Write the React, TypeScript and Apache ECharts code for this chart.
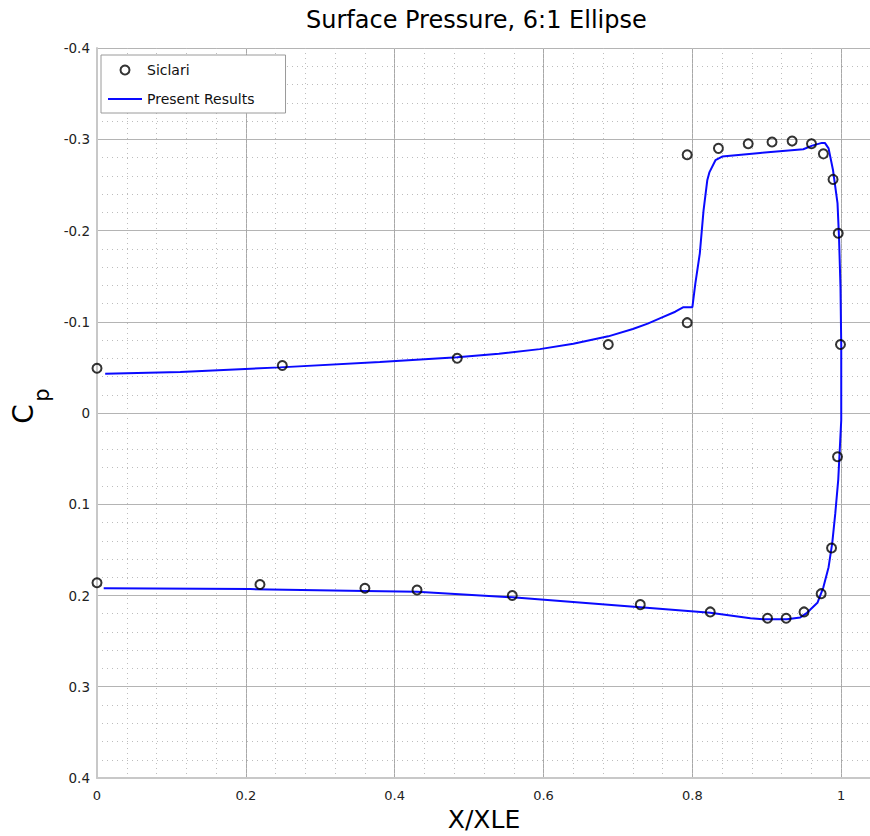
import React, { useEffect, useRef } from "react";
import * as echarts from "echarts";

const titleText = "Surface Pressure, 6:1 Ellipse";
const xAxisTitle = "X/XLE";

const siclariX = [0, 0.249, 0.484, 0.687, 0.793, 0.793, 0.835, 0.875, 0.907, 0.934, 0.96, 0.976, 0.989, 0.996, 0.999, 0.995, 0.987, 0.973, 0.95, 0.926, 0.901, 0.824, 0.73, 0.558, 0.43, 0.36, 0.219, 0];
const siclariCp = [-0.049, -0.052, -0.06, -0.075, -0.099, -0.283, -0.29, -0.295, -0.297, -0.298, -0.295, -0.284, -0.256, -0.197, -0.075, 0.048, 0.148, 0.198, 0.218, 0.225, 0.225, 0.218, 0.21, 0.2, 0.194, 0.192, 0.188, 0.186];

const resultsX = [0.011, 0.112, 0.246, 0.38, 0.484, 0.54, 0.595, 0.64, 0.687, 0.72, 0.74, 0.757, 0.777, 0.788, 0.8, 0.804, 0.81, 0.815, 0.82, 0.823, 0.831, 0.84, 0.891, 0.949, 0.961, 0.974, 0.978, 0.983, 0.989, 0.995, 0.997, 0.999, 1.0, 1.0, 0.996, 0.992, 0.988, 0.983, 0.976, 0.968, 0.954, 0.945, 0.927, 0.895, 0.878, 0.824, 0.73, 0.558, 0.43, 0.36, 0.206, 0.009];
const resultsCp = [-0.043, -0.045, -0.05, -0.056, -0.061, -0.065, -0.07, -0.076, -0.084, -0.092, -0.098, -0.104, -0.111, -0.116, -0.116, -0.142, -0.175, -0.222, -0.255, -0.264, -0.277, -0.281, -0.285, -0.289, -0.293, -0.296, -0.296, -0.29, -0.266, -0.23, -0.193, -0.138, -0.075, 0.008, 0.073, 0.11, 0.142, 0.169, 0.191, 0.208, 0.219, 0.224, 0.226, 0.226, 0.225, 0.219, 0.213, 0.202, 0.196, 0.195, 0.193, 0.192];

const FONT = "DejaVu Sans";

export default function App() {
  const ref = useRef<HTMLDivElement>(null);
  useEffect(() => {
    document.body.style.margin = "0";
    if (!ref.current) return;
    const chart = echarts.init(ref.current, null, { renderer: "svg" });
    const siclari = siclariX.map((x, i) => [x, siclariCp[i]]);
    const results = resultsX.map((x, i) => [x, resultsCp[i]]);
    chart.setOption({
      animation: false,
      backgroundColor: "#ffffff",
      textStyle: { fontFamily: FONT },
      title: {
        text: titleText,
        left: 301,
        top: 3,
        textStyle: { fontFamily: FONT, fontSize: 24, fontWeight: "normal", color: "#000" },
      },
      legend: {
        orient: "vertical",
        left: 101,
        top: 55,
        padding: [8, 31, 7, 6],
        itemGap: 15,
        itemWidth: 34,
        itemHeight: 9,
        backgroundColor: "#ffffff",
        borderColor: "#9a9a9a",
        borderWidth: 1,
        textStyle: { fontFamily: FONT, fontSize: 14, color: "#111" },
        data: [
          { name: "Siclari", icon: "circle", itemStyle: { color: "rgba(0,0,0,0)", borderColor: "#000", borderWidth: 2 } },
          { name: "Present Results", itemStyle: { opacity: 0 } },
        ],
      },
      grid: { left: 97, top: 48, width: 774, height: 730, containLabel: false, outerBoundsMode: "none" },
      xAxis: [
        {
          type: "value",
          min: 0,
          max: 1.04,
          interval: 0.2,
          name: xAxisTitle,
          nameLocation: "middle",
          nameGap: 28,
          nameTextStyle: { fontFamily: FONT, fontSize: 25, color: "#000" },
          axisLine: { show: true, onZero: false, lineStyle: { color: "#c8c8c8", width: 2 } },
          axisTick: { show: false },
          axisLabel: { showMaxLabel: false, margin: 11, fontFamily: FONT, fontSize: 13, color: "#222" },
          splitLine: { show: true, lineStyle: { color: "#a8a8a8", width: 1 } },
        },
        {
          type: "value",
          min: 0,
          max: 1.04,
          interval: 0.04,
          position: "bottom",
          axisLine: { show: false },
          axisTick: { show: false },
          axisLabel: { show: false },
          splitLine: { show: true, lineStyle: { color: "#bdbdbd", width: 1, type: [1, 4] } },
          z: 0,
        },
      ],
      yAxis: {
        type: "value",
        inverse: true,
        min: -0.4,
        max: 0.4,
        interval: 0.1,
        axisLine: { show: true, onZero: false, lineStyle: { color: "#c8c8c8", width: 2 } },
        axisTick: { show: false },
        axisLabel: { margin: 7, fontFamily: FONT, fontSize: 13.5, color: "#222" },
        splitLine: { show: true, lineStyle: { color: "#b4b4b4", width: 1 } },
        minorTick: { show: false, splitNumber: 5 },
        minorSplitLine: { show: true, lineStyle: { color: "#bdbdbd", width: 1, type: [1, 4] } },
      },
      graphic: [
        {
          type: "text",
          x: 23,
          y: 414,
          rotation: Math.PI / 2,
          style: { text: "C", fontFamily: FONT, fontSize: 28, fill: "#000", align: "center", verticalAlign: "middle" },
        },
        {
          type: "text",
          x: 42,
          y: 395,
          rotation: Math.PI / 2,
          style: { text: "p", fontFamily: FONT, fontSize: 21, fill: "#000", align: "center", verticalAlign: "middle" },
        },
      ],
      series: [
        {
          name: "Present Results",
          type: "line",
          data: results,
          symbol: "none",
          smooth: false,
          lineStyle: { color: "#0a0aff", width: 2 },
          itemStyle: { color: "#0a0aff" },
          z: 2,
        },
        {
          name: "Siclari",
          type: "scatter",
          data: siclari,
          symbol: "circle",
          symbolSize: 9,
          itemStyle: { color: "rgba(0,0,0,0)", borderColor: "#000", borderWidth: 2 },
          z: 3,
        },
      ],
    });
    return () => chart.dispose();
  }, []);
  return <div ref={ref} style={{ width: 870, height: 836 }} />;
}
